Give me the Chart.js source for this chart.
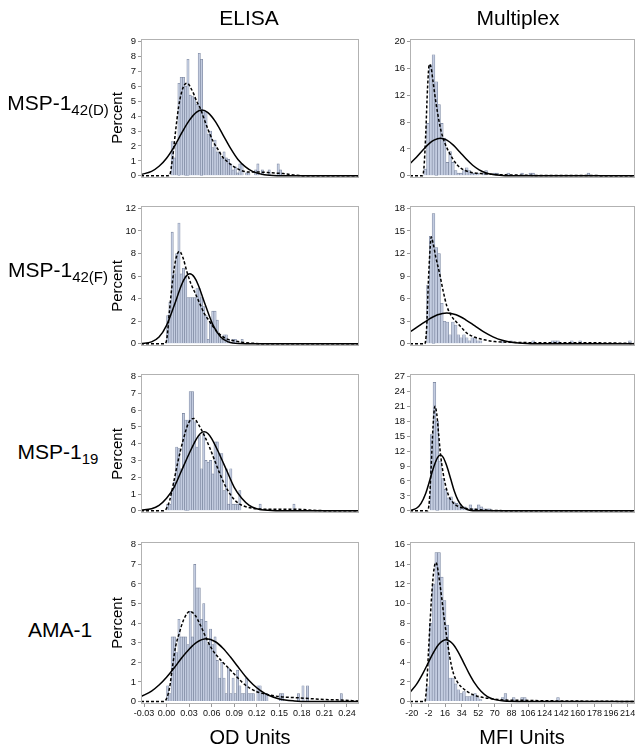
<!DOCTYPE html>
<html>
<head>
<meta charset="utf-8">
<script src="https://cdn.jsdelivr.net/npm/chart.js@4/dist/chart.umd.min.js"></script>
<style>
  body { margin: 0; background: #fff; }
  #wrap { position: relative; width: 638px; height: 746px; font-family: Arial, "Liberation Sans", sans-serif; color: #000; overflow: hidden; }
  canvas { position: absolute; }
  .t { position: absolute; white-space: nowrap; transform: translate(-50%, -50%); }
  .title { font-size: 21px; }
  .row { font-size: 21px; }
  .row sub { font-size: 15px; vertical-align: -5px; line-height: 0; }
  .pct { font-size: 15px; transform: translate(-50%, -50%) rotate(-90deg); }
</style>
</head>
<body>
<div id="wrap">
  <div class="t title" style="left:249px;top:18px;">ELISA</div>
  <div class="t title" style="left:518px;top:18px;">Multiplex</div>

  <div class="t row" style="left:58px;top:103px;">MSP-1<sub>42(D)</sub></div>
  <div class="t row" style="left:58px;top:270px;">MSP-1<sub>42(F)</sub></div>
  <div class="t row" style="left:58px;top:452px;">MSP-1<sub>19</sub></div>
  <div class="t row" style="left:60px;top:630px;">AMA-1</div>

  <div class="t pct" style="left:116px;top:118px;">Percent</div>
  <div class="t pct" style="left:116px;top:286px;">Percent</div>
  <div class="t pct" style="left:116px;top:454px;">Percent</div>
  <div class="t pct" style="left:116px;top:623px;">Percent</div>

  <div class="t title" style="left:250px;top:737px;font-size:20px;">OD Units</div>
  <div class="t title" style="left:522px;top:737px;font-size:20px;">MFI Units</div>
</div>
<script>
// bin widths and axis ticks
const ELISA_BIN = 0.003;
const MFI_BIN = 3;
const odTicks = [-0.03, 0, 0.03, 0.06, 0.09, 0.12, 0.15, 0.18, 0.21, 0.24];
const mfiTicks = [-20, -2, 16, 34, 52, 70, 88, 106, 124, 142, 160, 178, 196, 214];

// ---- ELISA MSP-1 42(D) ----
const elisaD_start = 0.006;
const elisaD_bins = [2.3,1.2,2.2,6.2,6.6,6.6,6.0,7.8,5.4,5.3, 5.2,4.8,8.2,7.8,4.4,4.3,2.8,3.0,1.9,2.4,
  1.6,1.6,1.2,1.6,1.2,1.1,0.8,0.4,0.6,0.2, 0.8,0.8,0,0.2,0.2,0,0,0.4,0.8,0, 0.4,0,0,0.4,0,0,0,0.8,0.4];
const elisaD_normX = [-0.034,-0.02,-0.01,0.0,0.01,0.02,0.03,0.04,0.047,0.055,0.065,0.075,0.085,0.095,0.105,0.115,0.13,0.15,0.18,0.256];
const elisaD_normY = [0.09,0.3,0.64,1.18,1.94,2.86,3.7,4.27,4.4,4.23,3.63,2.75,1.86,1.1,0.6,0.28,0.07,0.01,0,0];
const elisaD_kernX = [-0.034,0.0,0.004,0.008,0.012,0.016,0.020,0.024,0.028,0.032,0.036,0.040,0.045,0.050,0.056,0.062,0.068,0.074,0.082,0.090,0.100,0.110,0.125,0.140,0.155,0.170,0.190,0.256];
const elisaD_kernY = [0,0,0.05,1.2,3.0,4.6,5.6,6.1,6.2,5.9,5.5,5.0,4.5,3.8,3.0,2.3,1.8,1.3,0.9,0.6,0.35,0.25,0.25,0.2,0.15,0.05,0,0];
const elisaD_yTicks = [0,1,2,3,4,5,6,7,8,9];

// ---- ELISA MSP-1 42(F) ----
const elisaF_start = 0.0;
const elisaF_bins = [2.5,3.7,9.9,6.2,8.0,10.7,6.2,6.7,6.0,4.1, 4.1,4.1,4.1,4.9,4.9,4.1,3.3,2.5,0.4,2.0,
  2.9,2.9,2.1,0.8,0.4,0.8,0.8,0.4,0,0.4, 0.4,0,0,0.4];
const elisaF_normX = [-0.034,-0.02,-0.01,0.0,0.01,0.02,0.025,0.031,0.037,0.042,0.052,0.062,0.072,0.082,0.096,0.12,0.256];
const elisaF_normY = [0.02,0.17,0.6,1.64,3.37,5.24,5.9,6.2,5.9,5.24,3.37,1.64,0.6,0.17,0.02,0,0];
const elisaF_kernX = [-0.034,-0.003,0.0,0.004,0.008,0.012,0.017,0.022,0.027,0.032,0.038,0.044,0.050,0.056,0.062,0.070,0.078,0.088,0.100,0.115,0.130,0.256];
const elisaF_kernY = [0,0,0.3,3.0,5.6,7.4,8.2,7.6,6.4,5.4,4.5,3.6,2.7,2.1,1.5,0.9,0.5,0.3,0.15,0.05,0,0];
const elisaF_yTicks = [0,2,4,6,8,10,12];

// ---- ELISA MSP-1 19 ----
const elisa19_start = 0.0;
const elisa19_bins = [0.4,0.4,1.2,1.7,3.8,3.7,2.5,5.8,5.4,5.4, 7.1,7.1,5.3,3.8,4.5,2.5,4.6,3.0,2.9,3.0,
  2.2,4.1,4.1,3.4,3.4,1.2,2.5,0.4,2.5,0.4, 0.4,0.4,1.2,0,0,0,0,0,0,0, 0,0.4,0,0,0,0,0,0,0,0, 0,0,0,0,0,0,0.4];
const elisa19_normX = [-0.034,-0.02,-0.01,0.0,0.01,0.02,0.03,0.04,0.045,0.050,0.055,0.06,0.07,0.08,0.09,0.10,0.11,0.12,0.135,0.16,0.256];
const elisa19_normY = [0.05,0.13,0.33,0.75,1.4,2.4,3.4,4.3,4.6,4.7,4.6,4.3,3.4,2.4,1.4,0.75,0.33,0.13,0.03,0,0];
const elisa19_kernX = [-0.034,-0.004,0.0,0.004,0.009,0.015,0.022,0.029,0.036,0.043,0.050,0.057,0.064,0.071,0.078,0.086,0.094,0.102,0.115,0.130,0.170,0.200,0.256];
const elisa19_kernY = [0,0,0.15,0.6,1.6,2.9,4.2,5.2,5.5,5.1,4.5,3.8,3.0,2.2,1.5,0.9,0.5,0.3,0.15,0.1,0.1,0.02,0];
const elisa19_yTicks = [0,1,2,3,4,5,6,7,8];

// ---- ELISA AMA-1 ----
const elisaAMA_start = 0.0;
const elisaAMA_bins = [0.8,0.4,3.3,3.3,2.5,4.2,3.3,3.3,3.3,2.9, 4.6,3.3,7.0,5.8,5.8,4.2,5.0,4.1,2.9,3.7,
  2.9,3.3,2.1,1.2,2.0,1.2,0.4,1.7,0.4,1.2, 0.4,1.6,0.8,0.4,0.4,1.2,0.4,0.4,0.4,0, 0.8,0.8,0.4,0.4,0.4,0,0,0,0,0,
  0.4,0.4,0,0,0,0,0,0,0.4,0, 0.8,0,0.8,0,0,0,0,0,0,0, 0,0,0,0,0,0,0,0.4];
const elisaAMA_normX = [-0.034,-0.02,-0.01,0.0,0.01,0.02,0.03,0.04,0.053,0.065,0.075,0.085,0.095,0.105,0.115,0.125,0.135,0.15,0.17,0.19,0.256];
const elisaAMA_normY = [0.25,0.53,0.84,1.24,1.71,2.22,2.67,3.02,3.2,3.05,2.72,2.27,1.77,1.28,0.87,0.56,0.33,0.13,0.03,0,0];
const elisaAMA_kernX = [-0.034,-0.004,0.0,0.004,0.008,0.012,0.017,0.023,0.031,0.038,0.045,0.052,0.06,0.07,0.08,0.09,0.10,0.11,0.12,0.135,0.15,0.17,0.19,0.21,0.23,0.256];
const elisaAMA_kernY = [0,0,0.15,0.7,1.8,2.8,3.5,4.2,4.6,4.4,3.9,3.3,2.7,2.2,1.8,1.4,1.0,0.7,0.5,0.35,0.25,0.2,0.15,0.1,0.08,0.02];
const elisaAMA_yTicks = [0,1,2,3,4,5,6,7,8];

// ---- Multiplex MSP-1 42(D) ----
const mfiD_start = -7;
const mfiD_bins = [1.0,7.8,16.5,18.0,14.0,10.6,7.8,5.6,2.0,3.6, 2.0,0.8,0.4,0.4,0.8,1.2,0.8,0.4,0.4,0.4,
  0,0.4,0.8,0,0,0.4,0.4,0,0,0, 0.4,0,0,0,0,0.4,0,0,0.4,0.4, 0,0,0,0,0,0,0,0,0,0, 0,0,0,0,0,0,0,0,0,0.4];
const mfiD_normX = [-22,-15,-8,-1,4,11,18,25,32,39,46,53,60,68,78,95,222];
const mfiD_normY = [1.82,2.78,3.85,4.83,5.32,5.6,5.32,4.57,3.55,2.5,1.58,0.9,0.46,0.2,0.05,0,0];
const mfiD_kernX = [-22,-9,-7,-5,-3,-1,1,3,6,9,12,16,20,25,30,36,45,55,65,80,100,120,150,222];
const mfiD_kernY = [0,0,1.0,6,13,16.6,16,14,11,8.5,6.5,4.8,3.6,2.4,1.5,0.9,0.5,0.35,0.25,0.15,0.1,0.05,0.05,0];
const mfiD_yTicks = [0,4,8,12,16,20];

// ---- Multiplex MSP-1 42(F) ----
const mfiF_start = -4;
const mfiF_bins = [7.8,14.3,17.3,12.8,12.0,5.4,3.0,2.9,1.2,2.9, 2.5,1.2,0.8,1.2,0.8,0.4,0.8,0.8,0.4,0.4,
  0,0,0,0,0,0,0,0.4,0,0, 0.4,0,0,0,0,0,0,0,0.4,0, 0,0,0,0,0,0.4,0.4,0.4,0,0,
  0,0,0.4,0,0,0.4,0,0,0,0, 0,0,0,0,0,0,0,0,0,0, 0,0,0,0.4];
const mfiF_normX = [-22,-12,-2,8,18,28,38,48,58,68,78,90,105,125,222];
const mfiF_normY = [1.58,2.41,3.23,3.86,4.1,3.86,3.23,2.41,1.58,0.93,0.48,0.19,0.05,0.005,0];
const mfiF_kernX = [-22,-6,-4,-2,0,1,3,6,10,14,18,23,29,35,40,50,60,70,90,120,160,200,222];
const mfiF_kernY = [0,0,2.0,8.5,13.0,14.2,13.4,11.5,9.4,7.0,5.0,3.7,2.8,2.0,1.4,0.8,0.5,0.3,0.2,0.15,0.15,0.1,0.05];
const mfiF_yTicks = [0,3,6,9,12,15,18];

// ---- Multiplex MSP-1 19 ----
const mfi19_start = 0;
const mfi19_bins = [15.3,25.8,18.0,10.0,6.5,4.3,2.6,2.8,1.8,1.5, 1.2,0.8,0.8,0.4,1.2,0.4,0.4,1.2,0.8,0.4, 0.4,0.4];
const mfi19_normX = [-22,-15,-10,-5,0,4,8,11,14,18,22,26,30,35,40,46,55,222];
const mfi19_normY = [0.08,0.52,1.52,3.5,6.5,8.97,10.75,11.2,10.75,8.97,6.5,4.0,2.17,0.82,0.25,0.04,0,0];
const mfi19_kernX = [-22,-3,-1,1,3,5,7,9,11,14,17,20,25,30,38,48,60,75,90,222];
const mfi19_kernY = [0,0,2,9,17,21,19.5,15.5,11.5,7.5,4.8,3.0,1.6,0.9,0.5,0.3,0.15,0.05,0,0];
const mfi19_yTicks = [0,3,6,9,12,15,18,21,24,27];

// ---- Multiplex AMA-1 ----
const mfiAMA_start = -4;
const mfiAMA_bins = [1.5,8.0,12.0,15.2,15.2,12.7,10.3,7.8,2.4,2.4, 1.8,1.2,0.8,1.0,0.5,0.5,0.6,0.8,0.4,0.2,
  0,0,0,0,0,0,0,0.4,0.8,0, 0,0.4,0,0,0.4,0.4,0,0,0,0, 0,0,0,0,0,0,0,0.4];
const mfiAMA_normX = [-22,-15,-8,-2,4,10,17,24,30,36,42,48,55,62,70,80,95,222];
const mfiAMA_normY = [0.94,1.75,2.88,4.0,5.1,5.92,6.3,5.92,5.1,4.0,2.88,1.9,1.04,0.5,0.19,0.04,0,0];
const mfiAMA_kernX = [-22,-6,-4,-2,0,2,4,6,8,10,12.5,15,18,21,25,30,36,45,55,65,80,100,120,150,222];
const mfiAMA_kernY = [0,0,1.5,5.0,8.5,11.5,13.5,14.2,13.6,12.3,10.5,8.5,6.5,4.6,2.9,1.9,1.3,0.75,0.45,0.3,0.15,0.12,0.08,0.05,0];
const mfiAMA_yTicks = [0,2,4,6,8,10,12,14,16];

// layout
const COLS = [
  { left: 100, width: 262, axisW: 41, xMin: -0.034, xMax: 0.256, xTicks: odTicks, bin: ELISA_BIN, fmt: v => v.toFixed(2) },
  { left: 366, width: 272, axisW: 44, xMin: -22, xMax: 222, xTicks: mfiTicks, bin: MFI_BIN, fmt: v => String(v) }
];
const BOX_TOP = [38, 205, 373, 541];
const BOX_BOTTOM = [200, 368, 535, 704];
const PAD = 7;
const XAXIS_H = 22;

const panels = [
  { col: 0, row: 0, start: elisaD_start, bins: elisaD_bins, nx: elisaD_normX, ny: elisaD_normY, kx: elisaD_kernX, ky: elisaD_kernY, yTicks: elisaD_yTicks },
  { col: 0, row: 1, start: elisaF_start, bins: elisaF_bins, nx: elisaF_normX, ny: elisaF_normY, kx: elisaF_kernX, ky: elisaF_kernY, yTicks: elisaF_yTicks },
  { col: 0, row: 2, start: elisa19_start, bins: elisa19_bins, nx: elisa19_normX, ny: elisa19_normY, kx: elisa19_kernX, ky: elisa19_kernY, yTicks: elisa19_yTicks },
  { col: 0, row: 3, start: elisaAMA_start, bins: elisaAMA_bins, nx: elisaAMA_normX, ny: elisaAMA_normY, kx: elisaAMA_kernX, ky: elisaAMA_kernY, yTicks: elisaAMA_yTicks },
  { col: 1, row: 0, start: mfiD_start, bins: mfiD_bins, nx: mfiD_normX, ny: mfiD_normY, kx: mfiD_kernX, ky: mfiD_kernY, yTicks: mfiD_yTicks },
  { col: 1, row: 1, start: mfiF_start, bins: mfiF_bins, nx: mfiF_normX, ny: mfiF_normY, kx: mfiF_kernX, ky: mfiF_kernY, yTicks: mfiF_yTicks },
  { col: 1, row: 2, start: mfi19_start, bins: mfi19_bins, nx: mfi19_normX, ny: mfi19_normY, kx: mfi19_kernX, ky: mfi19_kernY, yTicks: mfi19_yTicks },
  { col: 1, row: 3, start: mfiAMA_start, bins: mfiAMA_bins, nx: mfiAMA_normX, ny: mfiAMA_normY, kx: mfiAMA_kernX, ky: mfiAMA_kernY, yTicks: mfiAMA_yTicks }
];

function toPoints(xs, ys) {
  return xs.map((x, i) => ({ x: x, y: ys[i] }));
}
function toBars(start, w, hs) {
  const out = [];
  hs.forEach((h, i) => { if (h > 0) out.push({ x: start + (i + 0.5) * w, y: h }); });
  return out;
}

// light grey frame round each plot area
const framePlugin = {
  id: 'frame',
  afterDraw(chart) {
    const { ctx, chartArea: a } = chart;
    ctx.save();
    ctx.strokeStyle = '#b2b2b2';
    ctx.lineWidth = 1;
    ctx.strokeRect(Math.round(a.left) + 0.5, Math.round(a.top) + 0.5,
      Math.round(a.right - a.left) - 1, Math.round(a.bottom - a.top) - 1);
    ctx.restore();
  }
};

const wrap = document.getElementById('wrap');

panels.forEach(p => {
  const c = COLS[p.col];
  const isBottom = p.row === 3;
  const boxH = BOX_BOTTOM[p.row] - BOX_TOP[p.row];
  const canvas = document.createElement('canvas');
  const h = PAD + boxH + (isBottom ? XAXIS_H : PAD);
  canvas.width = c.width;
  canvas.height = h;
  canvas.style.left = c.left + 'px';
  canvas.style.top = (BOX_TOP[p.row] - PAD) + 'px';
  wrap.insertBefore(canvas, wrap.firstChild);

  const yMax = p.yTicks[p.yTicks.length - 1];

  new Chart(canvas, {
    type: 'bar',
    data: {
      datasets: [
        {
          type: 'bar',
          data: toBars(p.start, c.bin, p.bins),
          backgroundColor: '#c3cce0',
          borderColor: '#76819a',
          borderWidth: 0.6,
          barPercentage: 1,
          categoryPercentage: 1,
          order: 3
        },
        {
          type: 'line',
          data: toPoints(p.nx, p.ny),
          borderColor: '#000',
          borderWidth: 1.5,
          pointRadius: 0,
          cubicInterpolationMode: 'monotone',
          order: 2
        },
        {
          type: 'line',
          data: toPoints(p.kx, p.ky),
          borderColor: '#000',
          borderWidth: 1.5,
          borderDash: [3, 2],
          pointRadius: 0,
          cubicInterpolationMode: 'monotone',
          order: 1
        }
      ]
    },
    options: {
      responsive: false,
      animation: false,
      devicePixelRatio: 1,
      layout: { padding: { left: 0, right: 3, top: PAD, bottom: isBottom ? 0 : PAD } },
      plugins: { legend: { display: false }, tooltip: { enabled: false } },
      scales: {
        x: {
          type: 'linear',
          min: c.xMin,
          max: c.xMax,
          offset: false,
          display: isBottom,
          afterBuildTicks: s => { s.ticks = c.xTicks.map(v => ({ value: v })); },
          afterFit: s => { s.height = XAXIS_H; },
          ticks: {
            autoSkip: false,
            maxRotation: 0,
            padding: 1,
            color: '#111',
            font: { family: 'Arial, "Liberation Sans", sans-serif', size: 9 },
            callback: v => c.fmt(v)
          },
          grid: { drawOnChartArea: false, tickLength: 3, color: '#999', offset: false },
          border: { display: false }
        },
        y: {
          min: -0.016 * yMax,
          max: 1.02 * yMax,
          afterBuildTicks: s => { s.ticks = p.yTicks.map(v => ({ value: v })); },
          afterFit: s => { s.width = c.axisW; },
          ticks: {
            padding: 2,
            color: '#111',
            font: { family: 'Arial, "Liberation Sans", sans-serif', size: 9.5 },
            callback: v => String(v)
          },
          grid: { drawOnChartArea: false, tickLength: 3, color: '#999' },
          border: { display: false }
        }
      }
    },
    plugins: [framePlugin]
  });
});
</script>
</body>
</html>
